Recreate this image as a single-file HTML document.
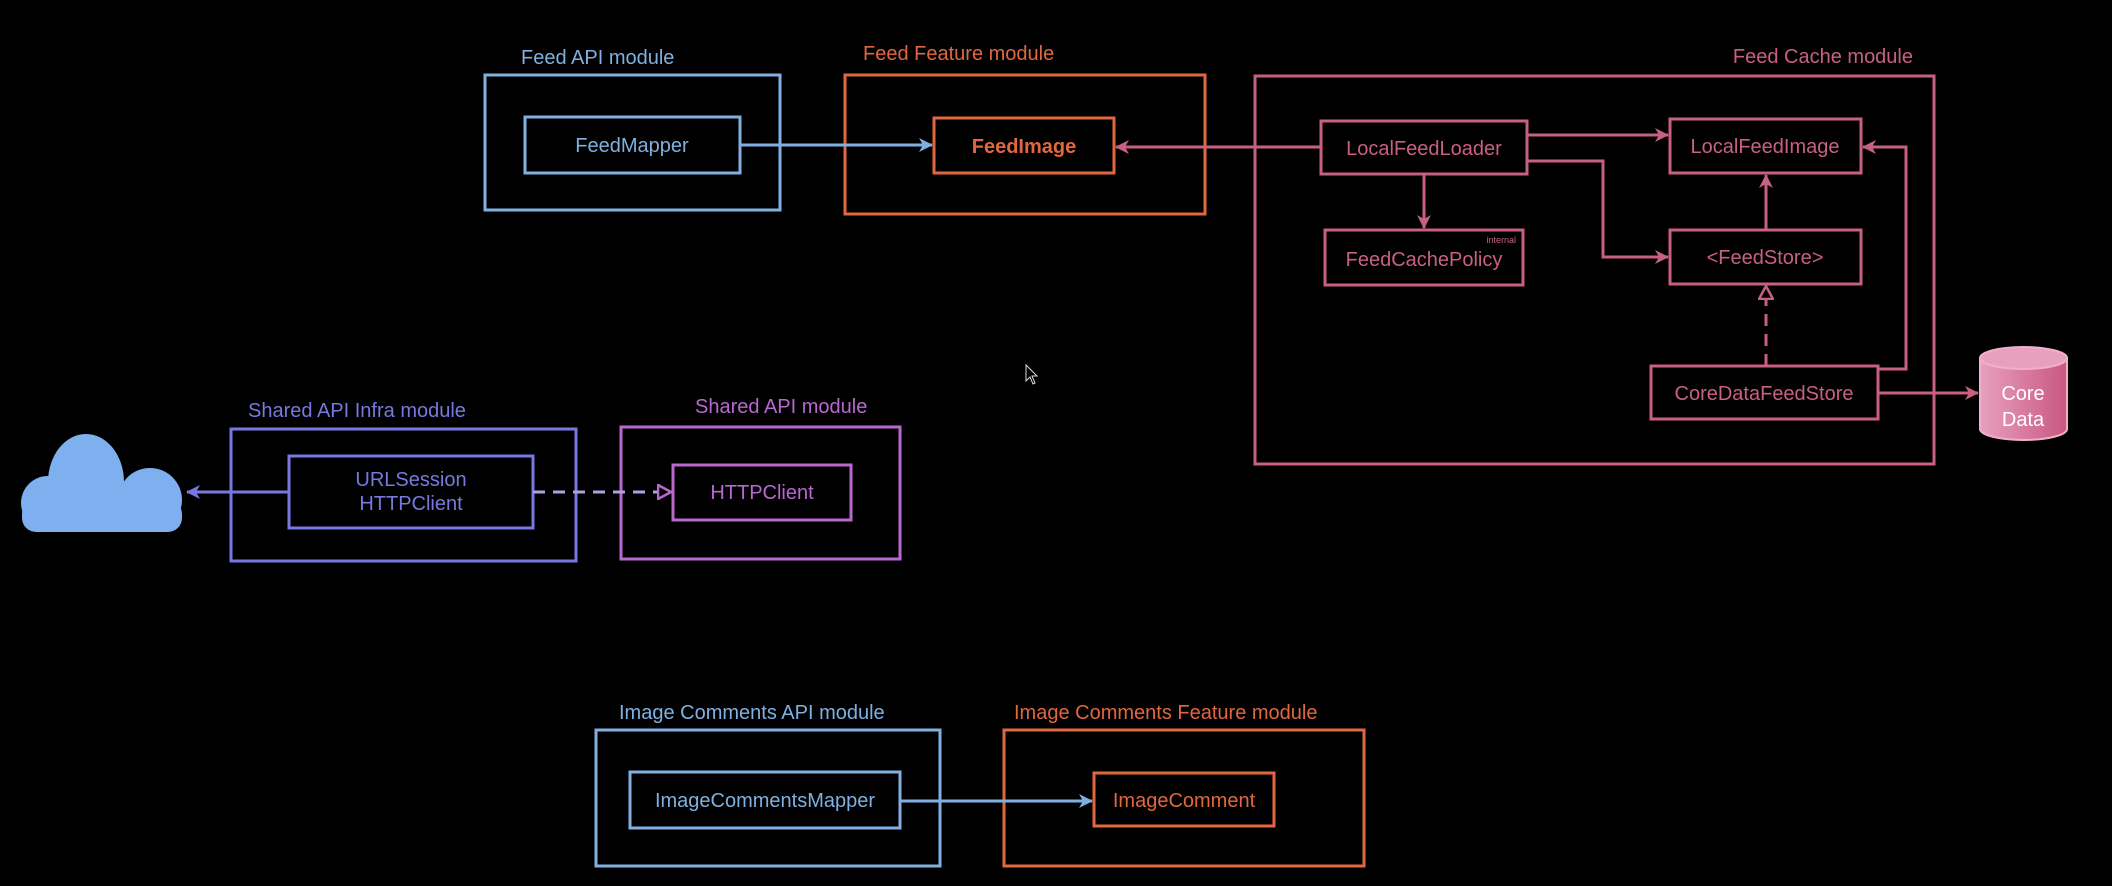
<!DOCTYPE html>
<html><head><meta charset="utf-8"><style>
html,body{margin:0;padding:0;background:#000;}
svg{display:block}
text{font-family:"Liberation Sans",sans-serif;}
</style></head><body>
<svg width="2112" height="886" viewBox="0 0 2112 886" xmlns="http://www.w3.org/2000/svg">
<defs>
<marker id="ab" markerWidth="14" markerHeight="14" refX="13" refY="7" orient="auto" markerUnits="userSpaceOnUse"><path d="M0,0 L14,7 L0,14 L4,7 z" fill="#7fb0e0"/></marker>
<marker id="ap" markerWidth="14" markerHeight="14" refX="13" refY="7" orient="auto" markerUnits="userSpaceOnUse"><path d="M0,0 L14,7 L0,14 L4,7 z" fill="#c86080"/></marker>
<marker id="au" markerWidth="14" markerHeight="14" refX="13" refY="7" orient="auto" markerUnits="userSpaceOnUse"><path d="M0,0 L14,7 L0,14 L4,7 z" fill="#7878e0"/></marker>
<marker id="hv" markerWidth="16" markerHeight="16" refX="14" refY="8" orient="auto" markerUnits="userSpaceOnUse"><path d="M1,1 L14,8 L1,15 z" fill="#000" stroke="#b868d0" stroke-width="2.5"/></marker>
<marker id="hp" markerWidth="16" markerHeight="16" refX="14" refY="8" orient="auto" markerUnits="userSpaceOnUse"><path d="M1,1 L14,8 L1,15 z" fill="#000" stroke="#c86080" stroke-width="2.5"/></marker>
<linearGradient id="cyl" x1="0" x2="1"><stop offset="0" stop-color="#e8a0c0"/><stop offset="1" stop-color="#c85880"/></linearGradient>
</defs>
<g fill="none" stroke-width="3">
<rect x="485" y="75" width="295" height="135" stroke="#7fb0e0"/>
<rect x="525" y="117" width="215" height="56" stroke="#7fb0e0"/>
<rect x="845" y="75" width="360" height="139" stroke="#e0673f"/>
<rect x="934" y="118" width="180" height="55" stroke="#e0673f"/>
<rect x="1255" y="76" width="679" height="388" stroke="#c86080"/>
<rect x="1321" y="121" width="206" height="53" stroke="#c86080"/>
<rect x="1670" y="119" width="191" height="54" stroke="#c86080"/>
<rect x="1325" y="230" width="198" height="55" stroke="#c86080"/>
<rect x="1670" y="230" width="191" height="54" stroke="#c86080"/>
<rect x="1651" y="366" width="227" height="53" stroke="#c86080"/>
<rect x="231" y="429" width="345" height="132" stroke="#7878e0"/>
<rect x="289" y="456" width="244" height="72" stroke="#7878e0"/>
<rect x="621" y="427" width="279" height="132" stroke="#b868d0"/>
<rect x="673" y="465" width="178" height="55" stroke="#b868d0"/>
<rect x="596" y="730" width="344" height="136" stroke="#7fb0e0"/>
<rect x="630" y="772" width="270" height="56" stroke="#7fb0e0"/>
<rect x="1004" y="730" width="360" height="136" stroke="#e0673f"/>
<rect x="1094" y="773" width="180" height="53" stroke="#e0673f"/>
<path d="M740,145 H932" stroke="#7fb0e0" marker-end="url(#ab)"/>
<path d="M900,801 H1092" stroke="#7fb0e0" marker-end="url(#ab)"/>
<path d="M1321,147 H1116" stroke="#c86080" marker-end="url(#ap)"/>
<path d="M1527,135 H1668" stroke="#c86080" marker-end="url(#ap)"/>
<path d="M1527,161 H1603 V257 H1668" stroke="#c86080" marker-end="url(#ap)"/>
<path d="M1424,174 V228" stroke="#c86080" marker-end="url(#ap)"/>
<path d="M1766,230 V175" stroke="#c86080" marker-end="url(#ap)"/>
<path d="M1766,366 V286" stroke="#c86080" stroke-dasharray="12,8" marker-end="url(#hp)"/>
<path d="M1878,369 H1906 V147 H1863" stroke="#c86080" marker-end="url(#ap)"/>
<path d="M1878,393 H1978" stroke="#c86080" marker-end="url(#ap)"/>
<path d="M289,492 H187" stroke="#7878e0" marker-end="url(#au)"/>
<path d="M533,492 H671" stroke="#b0a0e0" stroke-dasharray="12,8" marker-end="url(#hv)"/>
</g>
<g fill="#7eb0f0">
<circle cx="48" cy="503" r="27"/>
<ellipse cx="86" cy="482" rx="38" ry="48"/>
<circle cx="150" cy="500" r="32"/>
<rect x="40" y="495" width="120" height="37" rx="8"/>
<rect x="22" y="500" width="40" height="32" rx="14"/>
<rect x="140" y="500" width="42" height="32" rx="14"/>
</g>
<g>
<path d="M1980,358 V429 A43.5,11 0 0 0 2067,429 V358 Z" fill="url(#cyl)" stroke="#f0b0cc" stroke-width="2"/>
<ellipse cx="2023.5" cy="358" rx="43.5" ry="11" fill="#e8a0c0" stroke="#f0b0cc" stroke-width="2"/>
<text x="2023" y="400" fill="#fff" font-size="20" text-anchor="middle">Core</text>
<text x="2023" y="426" fill="#fff" font-size="20" text-anchor="middle">Data</text>
</g>
<g font-size="20">
<text x="521" y="64" fill="#7fb0e0">Feed API module</text>
<text x="863" y="60" fill="#e0673f">Feed Feature module</text>
<text x="1913" y="63" fill="#c86080" text-anchor="end">Feed Cache module</text>
<text x="248" y="417" fill="#7878e0">Shared API Infra module</text>
<text x="695" y="413" fill="#b868d0">Shared API module</text>
<text x="619" y="719" fill="#7fb0e0">Image Comments API module</text>
<text x="1014" y="719" fill="#e0673f">Image Comments Feature module</text>
</g>
<g font-size="20" text-anchor="middle">
<text x="632" y="152" fill="#7fb0e0">FeedMapper</text>
<text x="1024" y="153" fill="#e0673f" font-weight="bold">FeedImage</text>
<text x="1424" y="155" fill="#c86080">LocalFeedLoader</text>
<text x="1765" y="153" fill="#c86080">LocalFeedImage</text>
<text x="1424" y="266" fill="#c86080">FeedCachePolicy</text>
<text x="1765" y="264" fill="#c86080">&lt;FeedStore&gt;</text>
<text x="1764" y="400" fill="#c86080">CoreDataFeedStore</text>
<text x="411" y="486" fill="#7878e0">URLSession</text>
<text x="411" y="510" fill="#7878e0">HTTPClient</text>
<text x="762" y="499" fill="#b868d0">HTTPClient</text>
<text x="765" y="807" fill="#7fb0e0">ImageCommentsMapper</text>
<text x="1184" y="807" fill="#e0673f">ImageComment</text>
</g>
<text x="1516" y="243" fill="#c86080" font-size="9" text-anchor="end">internal</text>
<path d="M1026,365 V381 L1030,377 L1033,384 L1035,383 L1032,376 L1037,376 Z" fill="#000" stroke="#ddd" stroke-width="1"/>
</svg>
</body></html>
